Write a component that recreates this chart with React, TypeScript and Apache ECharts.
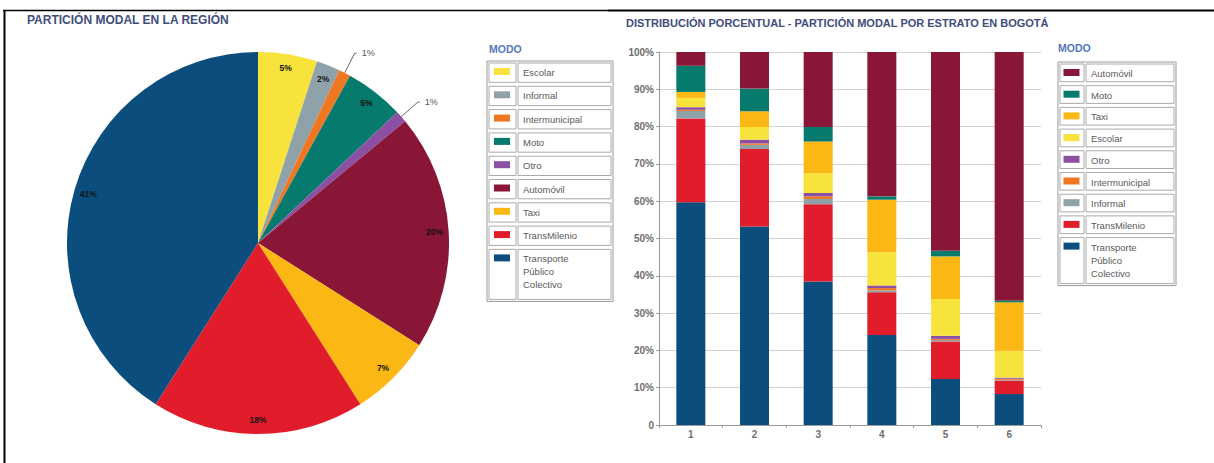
import React, { useEffect, useRef } from "react";
import * as echarts from "echarts";

// ---------- Data ----------
const pieNames = [
  "Escolar",
  "Informal",
  "Intermunicipal",
  "Moto",
  "Otro",
  "Automóvil",
  "Taxi",
  "TransMilenio",
  "Transporte Público Colectivo",
];
const pieValues = [5, 2, 1, 5, 1, 20, 7, 18, 41];

const estratos = ["1", "2", "3", "4", "5", "6"];
const tpc = [59.7, 53.2, 38.5, 24.1, 12.3, 8.3];
const transmilenio = [22.5, 20.8, 20.7, 11.5, 10.1, 3.6];
const informal = [2.0, 1.1, 1.4, 0.5, 0.4, 0.2];
const intermunicipal = [0.3, 0.4, 0.7, 0.6, 0.3, 0.3];
const otro = [0.7, 1.0, 0.9, 0.7, 0.8, 0.3];
const escolar = [2.5, 3.4, 5.3, 8.9, 9.9, 7.2];
const taxi = [1.6, 4.2, 8.5, 14.1, 11.4, 13.0];
const moto = [7.0, 6.1, 3.9, 0.9, 1.5, 0.5];
const automovil = [3.7, 9.8, 20.1, 38.7, 53.3, 66.6];

const yTicks = [0, 10, 20, 30, 40, 50, 60, 70, 80, 90, 100];

const leftLegend = [
  "Escolar",
  "Informal",
  "Intermunicipal",
  "Moto",
  "Otro",
  "Automóvil",
  "Taxi",
  "TransMilenio",
  "Transporte Público Colectivo",
];
const rightLegend = [
  "Automóvil",
  "Moto",
  "Taxi",
  "Escolar",
  "Otro",
  "Intermunicipal",
  "Informal",
  "TransMilenio",
  "Transporte Público Colectivo",
];

const COLORS: Record<string, string> = {
  Escolar: "#f7e33c",
  Informal: "#8fa2aa",
  Intermunicipal: "#f07722",
  Moto: "#067a6c",
  Otro: "#8b50a3",
  "Automóvil": "#891637",
  Taxi: "#fbb815",
  TransMilenio: "#e21d2b",
  "Transporte Público Colectivo": "#0b4e7e",
};

const TITLE_COLOR = "#3f4d7a";
const MODO_COLOR = "#5276b9";
const FONT = "'Liberation Sans', Arial, sans-serif";

function legendGraphic(
  names: string[],
  x0: number,
  y0: number,
  w: number,
  swW: number,
  rowH: number,
  lastH: number,
  textX: number
) {
  const els: any[] = [];
  let y = y0;
  const total = rowH * (names.length - 1) + lastH;
  els.push({
    type: "rect",
    shape: { x: x0, y: y0, width: w, height: total },
    style: { fill: "#fff", stroke: "#999", lineWidth: 1 },
    silent: true,
  });
  names.forEach((n, i) => {
    const h = i === names.length - 1 ? lastH : rowH;
    els.push({
      type: "rect",
      shape: { x: x0 + 2, y: y + 2, width: swW - 3, height: h - 4 },
      style: { fill: "none", stroke: "#aaa", lineWidth: 1 },
      silent: true,
    });
    els.push({
      type: "rect",
      shape: { x: x0 + swW + 1, y: y + 2, width: w - swW - 3, height: h - 4 },
      style: { fill: "none", stroke: "#aaa", lineWidth: 1 },
      silent: true,
    });
    els.push({
      type: "rect",
      shape: { x: x0 + swW / 2 - 8, y: y + 7, width: 16, height: 7 },
      style: { fill: COLORS[n] },
      silent: true,
    });
    const label =
      n === "Transporte Público Colectivo" ? "Transporte\nPúblico\nColectivo" : n;
    els.push({
      type: "text",
      x: textX,
      y: y + 5,
      style: {
        text: label,
        fill: "#5a5a5a",
        font: `9.5px ${FONT}`,
        lineHeight: 13,
        verticalAlign: "top",
      },
      silent: true,
    });
    y += h;
  });
  return els;
}

export default function App() {
  const ref = useRef<HTMLDivElement>(null);

  useEffect(() => {
    if (!ref.current) return;
    const chart = echarts.init(ref.current, undefined, { renderer: "svg" });

    const pieCenter = [258, 243];
    const pieR = 191;
    const smallIdx = [2, 4];

    const mainPieData = pieNames.map((n, i) => ({
      name: n,
      value: pieValues[i],
      itemStyle: { color: COLORS[n] },
      label: smallIdx.includes(i)
        ? {
            show: true,
            position: "outside",
            formatter: "{c}%",
            color: "#555",
            fontSize: 9,
            fontFamily: FONT,
          }
        : { show: false },
      labelLine: smallIdx.includes(i)
        ? { show: true, length: 22, length2: 2, lineStyle: { color: "#666", width: 1 } }
        : { show: false },
    }));

    const overlayData = pieNames.map((n, i) => ({
      name: n,
      value: pieValues[i],
      itemStyle: { color: "rgba(0,0,0,0)" },
      label: { show: !smallIdx.includes(i) },
    }));

    const barSeriesDef: [string, number[]][] = [
      ["Transporte Público Colectivo", tpc],
      ["TransMilenio", transmilenio],
      ["Informal", informal],
      ["Intermunicipal", intermunicipal],
      ["Otro", otro],
      ["Escolar", escolar],
      ["Taxi", taxi],
      ["Moto", moto],
      ["Automóvil", automovil],
    ];

    const option: any = {
      animation: false,
      backgroundColor: "#ffffff",
      textStyle: { fontFamily: FONT },
      grid: { left: 659, top: 52, width: 382, height: 373, containLabel: false },
      xAxis: {
        type: "category",
        data: estratos,
        axisLine: { show: true, lineStyle: { color: "#9a9a9a", width: 1 } },
        axisTick: { show: true, length: 3, lineStyle: { color: "#9a9a9a" } },
        axisLabel: { color: "#6e6e6e", fontSize: 10, fontWeight: "bold", margin: 4 },
      },
      yAxis: {
        type: "value",
        min: 0,
        max: 100,
        interval: 10,
        axisLine: { show: true, lineStyle: { color: "#9a9a9a", width: 1 } },
        axisTick: { show: true, length: 3, lineStyle: { color: "#9a9a9a" } },
        splitLine: { show: true, lineStyle: { color: "#d2d2d2", width: 1 } },
        axisLabel: {
          color: "#6e6e6e",
          fontSize: 10,
          fontWeight: "bold",
          margin: 5,
          formatter: (v: number) => (yTicks.includes(v) ? (v === 0 ? "0" : v + "%") : ""),
        },
      },
      series: [
        {
          type: "pie",
          center: pieCenter,
          radius: pieR,
          startAngle: 90,
          clockwise: true,
          avoidLabelOverlap: false,
          silent: true,
          data: mainPieData,
          label: { show: false },
        },
        {
          type: "pie",
          center: pieCenter,
          radius: [pieR * 0.82, pieR],
          startAngle: 90,
          clockwise: true,
          avoidLabelOverlap: false,
          silent: true,
          data: overlayData,
          label: {
            position: "inside",
            formatter: "{c}%",
            color: "#111",
            fontSize: 8.5,
            fontWeight: "bold",
            fontFamily: FONT,
          },
          labelLine: { show: false },
        },
        ...barSeriesDef.map(([name, vals]) => ({
          type: "bar",
          name,
          stack: "total",
          barWidth: 29,
          data: vals,
          itemStyle: { color: COLORS[name] },
          silent: true,
        })),
      ],
      graphic: [
        // frame
        {
          type: "line",
          shape: { x1: 3, y1: 10.5, x2: 608, y2: 10.5 },
          style: { stroke: "#000", lineWidth: 1.5 },
          silent: true,
        },
        {
          type: "line",
          shape: { x1: 608, y1: 10.5, x2: 1214, y2: 10.5 },
          style: { stroke: "#000", lineWidth: 2 },
          silent: true,
        },
        {
          type: "line",
          shape: { x1: 4.5, y1: 10, x2: 4.5, y2: 463 },
          style: { stroke: "#000", lineWidth: 2 },
          silent: true,
        },
        // titles
        {
          type: "text",
          x: 27,
          y: 20,
          style: {
            text: "PARTICIÓN MODAL EN LA REGIÓN",
            fill: TITLE_COLOR,
            font: `bold 12px ${FONT}`,
            verticalAlign: "middle",
          },
          silent: true,
        },
        {
          type: "text",
          x: 626,
          y: 23,
          style: {
            text: "DISTRIBUCIÓN PORCENTUAL - PARTICIÓN MODAL POR ESTRATO EN BOGOTÁ",
            fill: TITLE_COLOR,
            font: `bold 11px ${FONT}`,
            verticalAlign: "middle",
          },
          silent: true,
        },
        {
          type: "text",
          x: 489,
          y: 49,
          style: {
            text: "MODO",
            fill: MODO_COLOR,
            font: `bold 10.5px ${FONT}`,
            verticalAlign: "middle",
          },
          silent: true,
        },
        {
          type: "text",
          x: 1058,
          y: 48,
          style: {
            text: "MODO",
            fill: MODO_COLOR,
            font: `bold 10.5px ${FONT}`,
            verticalAlign: "middle",
          },
          silent: true,
        },
        ...legendGraphic(leftLegend, 487, 61, 126, 30, 23.3, 54, 523),
        ...legendGraphic(rightLegend, 1058, 62, 118, 27, 21.7, 50, 1091),
      ],
    };

    chart.setOption(option);
    return () => chart.dispose();
  }, []);

  return (
    <div
      ref={ref}
      style={{ position: "fixed", left: 0, top: 0, width: 1214, height: 463, background: "#fff" }}
    />
  );
}
